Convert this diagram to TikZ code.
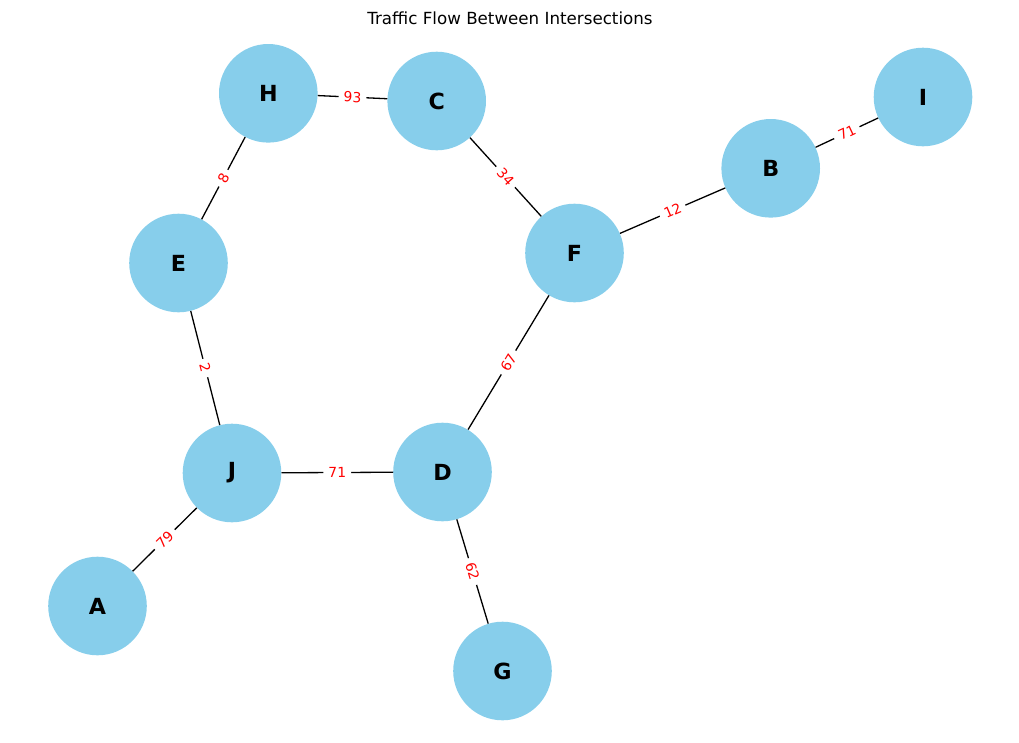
\documentclass[tikz,border=0pt]{standalone}
\usepackage{fontspec}
\setmainfont{DejaVu Sans}
\definecolor{skyblue}{HTML}{87CEEB}
\tikzset{
  inter/.style={circle,fill=skyblue,minimum size=98.6pt,inner sep=0pt,
    font=\fontsize{22.2}{26}\selectfont\bfseries},
  road/.style={black,line width=1.3pt},
  flow/.style={midway,sloped,fill=white,text=red,inner xsep=5pt,inner ysep=3pt,
    rounded corners=3pt,font=\fontsize{13.9}{16}\selectfont}
}
\begin{document}
\begin{tikzpicture}[x=1pt,y=-1pt]
\useasboundingbox (0,0) rectangle (1019,742);
\node[font=\fontsize{16.7}{20}\selectfont] (title) at (510,18) {Traffic Flow Between Intersections};
% intersections
\node[inter] (H) at (268.3,93.3) {H};
\node[inter] (C) at (436.7,101) {C};
\node[inter] (I) at (923,97) {I};
\node[inter] (B) at (770.7,168.3) {B};
\node[inter] (F) at (574.5,253) {F};
\node[inter] (E) at (178.5,263) {E};
\node[inter] (J) at (232,473) {J};
\node[inter] (D) at (442.5,472) {D};
\node[inter] (A) at (97.5,606) {A};
\node[inter] (G) at (502.5,671) {G};
% roads
\draw[road] (H) -- node[flow]{93} (C);
\draw[road] (C) -- node[flow]{34} (F);
\draw[road] (F) -- node[flow]{12} (B);
\draw[road] (B) -- node[flow]{71} (I);
\draw[road] (H) -- node[flow]{8} (E);
\draw[road] (E) -- node[flow]{2} (J);
\draw[road] (J) -- node[flow]{71} (D);
\draw[road] (D) -- node[flow]{67} (F);
\draw[road] (J) -- node[flow]{79} (A);
\draw[road] (D) -- node[flow]{62} (G);
\end{tikzpicture}
\end{document}
